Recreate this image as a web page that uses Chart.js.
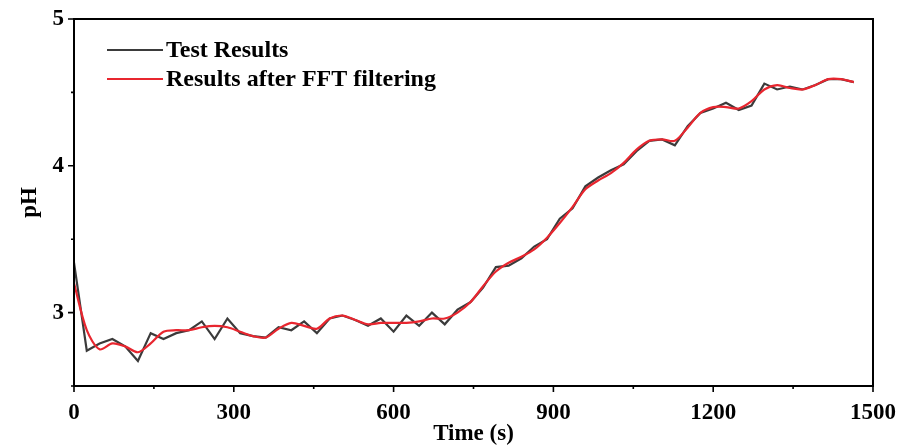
<!DOCTYPE html>
<html>

<head>
  <meta charset="utf-8">
  <title>pH over time</title>
  <script src="https://cdn.jsdelivr.net/npm/chart.js@4.4.1/dist/chart.umd.min.js"></script>
  <style>
    body { margin: 0; background: #fff; }
    #wrap { position: relative; width: 898px; height: 448px; }
  </style>
</head>

<body>
  <div id="wrap">
    <canvas id="chart" width="898" height="448"></canvas>
  </div>

<script>
  // sampling times, every 24 s
  const times = [
    0, 24, 48, 72, 96, 120, 144, 168, 192, 216,
    240, 264, 288, 312, 336, 360, 384, 408, 432, 456,
    480, 504, 528, 552, 576, 600, 624, 648, 672, 696,
    720, 744, 768, 792, 816, 840, 864, 888, 912, 936,
    960, 984, 1008, 1032, 1056, 1080, 1104, 1128, 1152, 1176,
    1200, 1224, 1248, 1272, 1296, 1320, 1344, 1368, 1392, 1416,
    1440, 1464
  ];

  // measured pH
  const testResults = [
    3.34, 2.74, 2.79, 2.82, 2.77, 2.67, 2.86, 2.82, 2.86, 2.88,
    2.94, 2.82, 2.96, 2.86, 2.84, 2.83, 2.90, 2.88, 2.94, 2.86,
    2.96, 2.98, 2.95, 2.91, 2.96, 2.87, 2.98, 2.91, 3.00, 2.92,
    3.02, 3.07, 3.17, 3.31, 3.32, 3.37, 3.45, 3.50, 3.64, 3.71,
    3.86, 3.92, 3.97, 4.01, 4.10, 4.17, 4.18, 4.14, 4.27, 4.36,
    4.39, 4.43, 4.38, 4.41, 4.56, 4.52, 4.54, 4.52, 4.55, 4.59,
    4.59, 4.57
  ];

  // same signal after FFT low-pass
  const fftResults = [
    3.20, 2.88, 2.75, 2.79, 2.77, 2.73, 2.79, 2.87, 2.88, 2.88,
    2.90, 2.91, 2.90, 2.87, 2.84, 2.83, 2.89, 2.93, 2.91, 2.89,
    2.96, 2.98, 2.95, 2.92, 2.93, 2.93, 2.93, 2.94, 2.96, 2.96,
    3.00, 3.07, 3.18, 3.28, 3.34, 3.38, 3.43, 3.51, 3.61, 3.72,
    3.84, 3.90, 3.95, 4.02, 4.11, 4.17, 4.18, 4.17, 4.26, 4.36,
    4.40, 4.40, 4.39, 4.44, 4.52, 4.55, 4.53, 4.52, 4.55, 4.59,
    4.59, 4.57
  ];

  const seriesNames = ['Test Results', 'Results after FFT filtering'];
  const xTicks = [0, 300, 600, 900, 1200, 1500];
  const yTicks = [3, 4, 5];

  const FONT = 'Liberation Serif, Times New Roman, serif';
  const BLACK = '#3b3b3b';
  const RED = '#e8262f';

  const toPoints = (ys) => ys.map((y, i) => ({ x: times[i], y: y }));

  // keep the plot box where we want it, labels may hang over the edges
  const noScalePadding = (s) => {
    s.paddingLeft = 0;
    s.paddingRight = 0;
    s.paddingTop = 0;
    s.paddingBottom = 0;
  };

  // frame around the plot plus outward tick marks (major + minor)
  const frameAndTicks = {
    id: 'frameAndTicks',
    afterDraw(chart) {
      const ctx = chart.ctx;
      const a = chart.chartArea;
      const sx = chart.scales.x;
      const sy = chart.scales.y;
      ctx.save();
      ctx.strokeStyle = '#000';
      ctx.lineWidth = 2;
      ctx.strokeRect(a.left, a.top, a.right - a.left, a.bottom - a.top);

      ctx.lineWidth = 1.6;
      ctx.beginPath();
      sx.ticks.forEach(t => {
        const px = sx.getPixelForValue(t.value);
        const len = xTicks.includes(t.value) ? 6 : 3;
        ctx.moveTo(px, a.bottom);
        ctx.lineTo(px, a.bottom + len);
      });
      sy.ticks.forEach(t => {
        const py = sy.getPixelForValue(t.value);
        const len = yTicks.includes(t.value) ? 6 : 3;
        ctx.moveTo(a.left, py);
        ctx.lineTo(a.left - len, py);
      });
      ctx.stroke();
      ctx.restore();
    }
  };

  // legend sitting inside the plot, top left
  const insideLegend = {
    id: 'insideLegend',
    afterDraw(chart) {
      const ctx = chart.ctx;
      const rows = [
        { label: seriesNames[0], color: BLACK, y: 50 },
        { label: seriesNames[1], color: RED, y: 79 }
      ];
      ctx.save();
      ctx.font = 'bold 24px ' + FONT;
      ctx.textBaseline = 'middle';
      ctx.fillStyle = '#000';
      rows.forEach(r => {
        ctx.strokeStyle = r.color;
        ctx.lineWidth = 2;
        ctx.beginPath();
        ctx.moveTo(107, r.y);
        ctx.lineTo(163, r.y);
        ctx.stroke();
        ctx.fillText(r.label, 166, r.y + 1);
      });
      ctx.restore();
    }
  };

  const config = {
    type: 'line',
    data: {
      datasets: [
        {
          label: seriesNames[1],
          data: toPoints(fftResults),
          borderColor: RED,
          borderWidth: 2.2,
          pointRadius: 0,
          tension: 0.3,
          order: 0
        },
        {
          label: seriesNames[0],
          data: toPoints(testResults),
          borderColor: BLACK,
          borderWidth: 2.2,
          pointRadius: 0,
          tension: 0,
          order: 1
        }
      ]
    },
    options: {
      responsive: false,
      animation: false,
      events: [],
      layout: { padding: { top: 19, right: 25, left: 0, bottom: 0 } },
      plugins: {
        legend: { display: false },
        tooltip: { enabled: false }
      },
      scales: {
        x: {
          type: 'linear',
          min: 0,
          max: 1500,
          grid: { display: false },
          border: { display: false },
          ticks: {
            stepSize: 150,
            autoSkip: false,
            maxRotation: 0,
            padding: 5,
            color: '#000',
            font: { family: FONT, size: 23, weight: 'bold' },
            callback: v => xTicks.includes(v) ? String(v) : ''
          },
          title: {
            display: true,
            text: 'Time (s)',
            color: '#000',
            padding: { top: 0, bottom: 0 },
            font: { family: FONT, size: 23, weight: 'bold' }
          },
          afterFit: s => { s.height = 62; noScalePadding(s); }
        },
        y: {
          min: 2.5,
          max: 5,
          grid: { display: false },
          border: { display: false },
          ticks: {
            stepSize: 0.5,
            autoSkip: false,
            padding: 2,
            color: '#000',
            font: { family: FONT, size: 23, weight: 'bold' },
            callback: v => yTicks.includes(v) ? String(v) : ''
          },
          title: {
            display: true,
            text: 'pH',
            color: '#000',
            padding: { top: 16, bottom: 0 },
            font: { family: FONT, size: 23, weight: 'bold' }
          },
          afterFit: s => { s.width = 74; noScalePadding(s); }
        }
      }
    },
    plugins: [frameAndTicks, insideLegend]
  };

  new Chart(document.getElementById('chart'), config);
</script>
</body>

</html>
